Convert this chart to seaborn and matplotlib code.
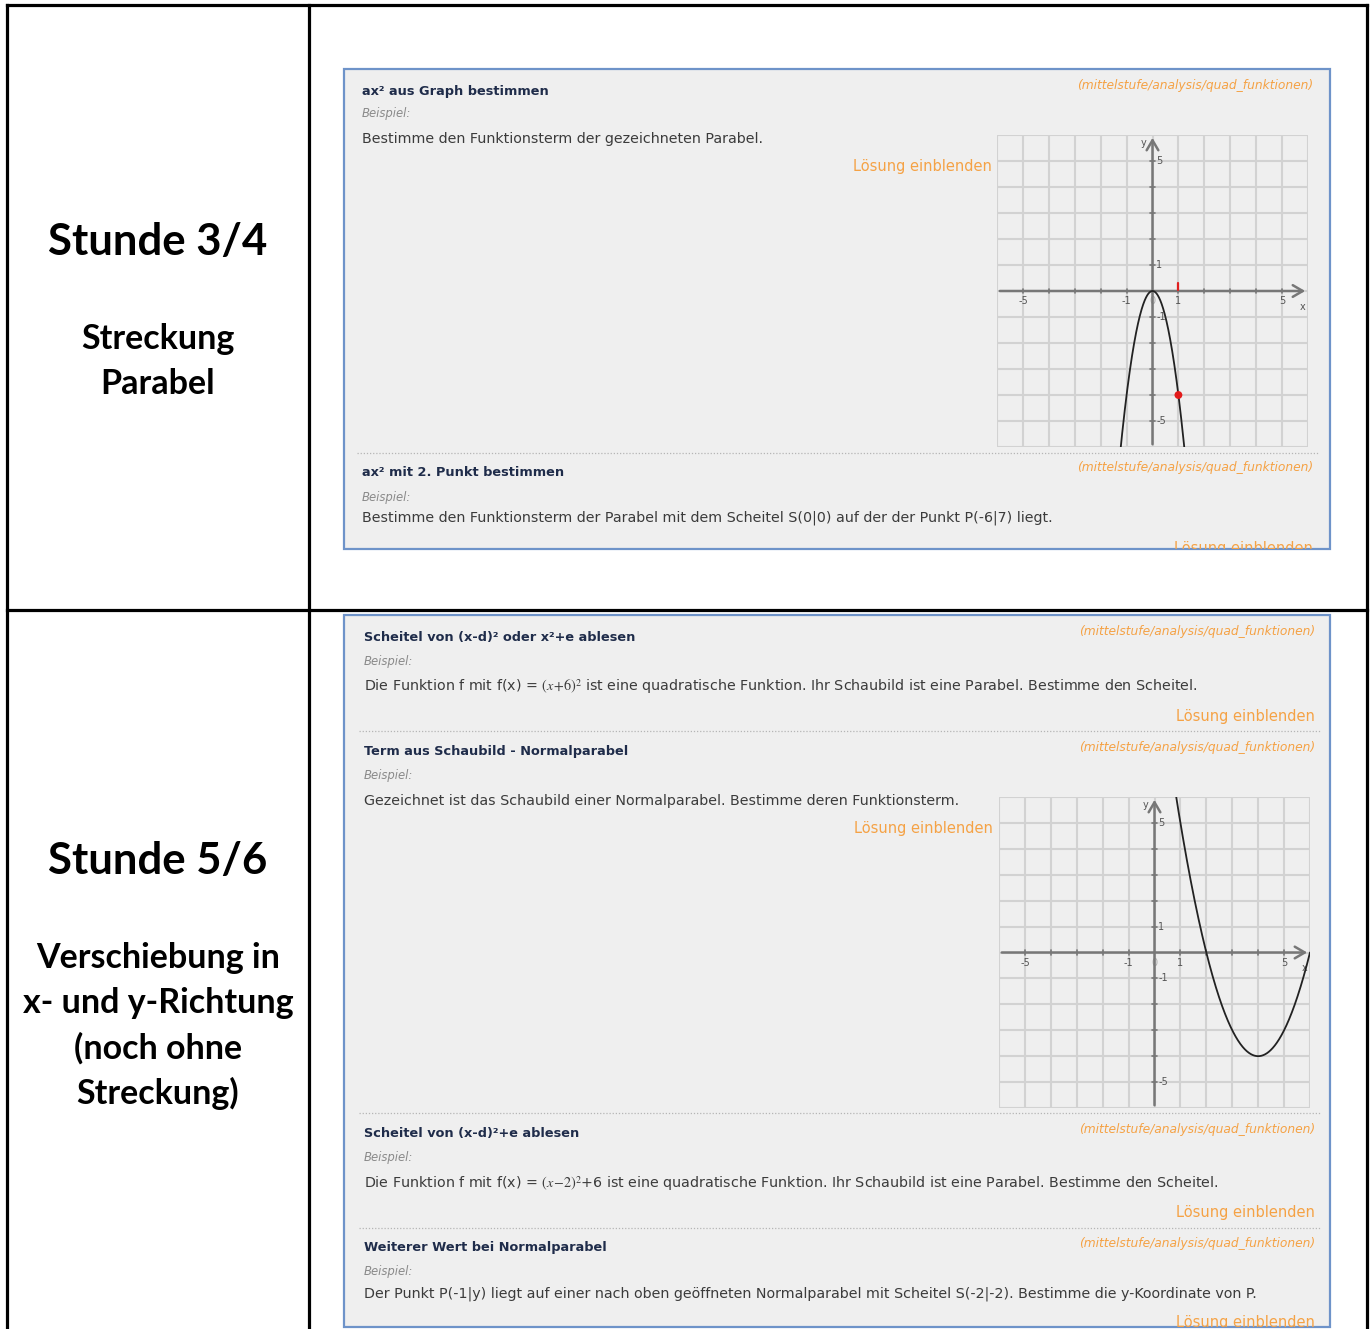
import numpy as np
import pandas as pd
import matplotlib
matplotlib.use("Agg")
import matplotlib.pyplot as plt
import matplotlib.patches as mpatches
from matplotlib.transforms import Bbox, TransformedBbox
import seaborn as sns

# ---------------- data ----------------
section_titles = ["Stunde 3/4", "Stunde 5/6"]
section_lines = [["Streckung", "Parabel"],
                 ["Verschiebung in", "x- und y-Richtung", "(noch ohne", "Streckung)"]]

task_titles = ["ax² aus Graph bestimmen",
               "ax² mit 2. Punkt bestimmen",
               "Scheitel von (x-d)² oder x²+e ablesen",
               "Term aus Schaubild - Normalparabel",
               "Scheitel von (x-d)²+e ablesen",
               "Weiterer Wert bei Normalparabel"]
task_texts = ["Bestimme den Funktionsterm der gezeichneten Parabel.",
              "Bestimme den Funktionsterm der Parabel mit dem Scheitel S(0|0) auf der der Punkt P(-6|7) liegt.",
              r"Die Funktion f mit f(x) = $\left(x\!+\!6\right)^2$ ist eine quadratische Funktion. Ihr Schaubild ist eine Parabel. Bestimme den Scheitel.",
              "Gezeichnet ist das Schaubild einer Normalparabel. Bestimme deren Funktionsterm.",
              r"Die Funktion f mit f(x) = $\left(x\!-\!2\right)^2$+6 ist eine quadratische Funktion. Ihr Schaubild ist eine Parabel. Bestimme den Scheitel.",
              "Der Punkt P(-1|y) liegt auf einer nach oben geöffneten Normalparabel mit Scheitel S(-2|-2). Bestimme die y-Koordinate von P."]
task_path = "(mittelstufe/analysis/quad_funktionen)"
example_label = "Beispiel:"
solution_label = "Lösung einblenden"

# graph parameters y = a (x - d)^2 + e
graph1_a, graph1_d, graph1_e = -4.0, 0.0, 0.0
graph1_point = (1.0, -4.0)
graph2_a, graph2_d, graph2_e = 1.0, 4.0, -4.0
axis_tick_labels = [-5, -1, 1, 5]
grid_range = (-6, 6)

# ---------------- layout ----------------
W, H = 1371, 1329
sns.set_theme(style="white")
plt.rcParams["font.family"] = ["DejaVu Sans"]
plt.rcParams["mathtext.fontset"] = "stix"

fig = plt.figure(figsize=(W / 100, H / 100), dpi=100)
ax = fig.add_axes([0, 0, 1, 1])
ax.set_xlim(0, W)
ax.set_ylim(H, 0)
ax.axis("off")

# table lines
tbl = dict(color="black", lw=2.3, solid_capstyle="projecting")
ax.plot([7, 1367], [5, 5], **tbl)
ax.plot([7, 1367], [610, 610], **tbl)
ax.plot([7, 7], [5, H], **tbl)
ax.plot([309, 309], [5, H], **tbl)
ax.plot([1367, 1367], [5, H], **tbl)

# left column texts
lf = ["Lato", "DejaVu Sans"]
ax.text(158, 242, section_titles[0], ha="center", va="center", fontsize=31.5,
        fontweight="bold", family=lf, color="black")
for i, s in enumerate(section_lines[0]):
    ax.text(158, 339 + 45 * i, s, ha="center", va="center", fontsize=24.5,
            fontweight="bold", family=lf, color="black")
ax.text(158, 861, section_titles[1], ha="center", va="center", fontsize=31.5,
        fontweight="bold", family=lf, color="black")
for i, s in enumerate(section_lines[1]):
    ax.text(158, 958 + 45 * i, s, ha="center", va="center", fontsize=24.5,
            fontweight="bold", family=lf, color="black")

# panels
panel_fc = "#efefef"
panel_ec = "#6e93c9"
p1_box = (344, 69, 1330, 549)
p2_box = (344, 615, 1330, 1327)
for (x0, y0, x1, y1) in (p1_box, p2_box):
    ax.add_patch(mpatches.Rectangle((x0, y0), x1 - x0, y1 - y0, facecolor=panel_fc,
                                    edgecolor=panel_ec, lw=1.6, zorder=1))


def clipper(b):
    x0, y0, x1, y1 = b
    return TransformedBbox(Bbox([[x0, y0], [x1, y1]]), ax.transData)


title_c = "#1f2c4a"
body_c = "#3b3b3b"
orange = "#f5a245"
# (x_left, x_right, y_title, y_path, y_beisp, y_body, x_loes, y_loes, panel)
task_layout = [
    (362, 1313, 91, 86, 114, 139, 992, 166, p1_box),
    (362, 1313, 472, 468, 497, 518, 1313, 548, p1_box),
    (364, 1315, 637, 632, 661, 687, 1315, 716, p2_box),
    (364, 1315, 752, 748, 775, 801, 993, 828, p2_box),
    (364, 1315, 1133, 1129, 1157, 1184, 1315, 1212, p2_box),
    (364, 1315, 1247, 1243, 1271, 1294, 1315, 1322, p2_box),
]
for k, (xl, xr, yt, yp, yb, ybody, xlo, ylo, pb) in enumerate(task_layout):
    ax.text(xl, yt, task_titles[k], ha="left", va="center", fontsize=9.3,
            fontweight="bold", color=title_c, zorder=3)
    ax.text(xr, yp, task_path, ha="right", va="center", fontsize=8.8,
            style="italic", color=orange, zorder=3)
    ax.text(xl, yb, example_label, ha="left", va="center", fontsize=8.4,
            style="italic", color="#8a8a8a", zorder=3)
    ax.text(xl, ybody, task_texts[k], ha="left", va="center", fontsize=10.3,
            color=body_c, zorder=3)
    t = ax.text(xlo, ylo, solution_label, ha="right", va="center", fontsize=10.5,
                color=orange, zorder=3)
    t.set_clip_box(clipper(pb))
    t.set_clip_on(True)

# dotted separators
sep = dict(color="#b5b5b5", lw=0.9, ls=(0, (1, 1.5)), zorder=2)
ax.plot([357, 1318], [453, 453], **sep)
ax.plot([359, 1320], [731, 731], **sep)
ax.plot([359, 1320], [1113, 1113], **sep)
ax.plot([359, 1320], [1228, 1228], **sep)


def graph(box, a, d, e, point=None, red_tick=None):
    x0, y0, x1, y1 = box
    g = fig.add_axes([x0 / W, 1 - y1 / H, (x1 - x0) / W, (y1 - y0) / H])
    lo, hi = grid_range
    g.set_xlim(lo, hi)
    g.set_ylim(lo, hi)
    g.set_facecolor(panel_fc)
    for s in g.spines.values():
        s.set_visible(False)
    for v in range(lo, hi + 1):
        g.axvline(v, color="#d2d2d2", lw=1.5, zorder=0)
        g.axhline(v, color="#d2d2d2", lw=1.5, zorder=0)
    g.set_xticks([])
    g.set_yticks([])
    ac = "#777777"
    g.annotate("", xy=(hi, 0), xytext=(lo, 0),
               arrowprops=dict(arrowstyle="->,head_length=0.6,head_width=0.35", color=ac, lw=1.8),
               annotation_clip=False, zorder=2)
    g.annotate("", xy=(0, hi), xytext=(0, lo),
               arrowprops=dict(arrowstyle="->,head_length=0.6,head_width=0.35", color=ac, lw=1.8),
               annotation_clip=False, zorder=2)
    for v in range(lo + 1, hi):
        if v == 0:
            continue
        g.plot([v, v], [-0.08, 0.08], color=ac, lw=1.2, zorder=2)
        g.plot([-0.08, 0.08], [v, v], color=ac, lw=1.2, zorder=2)
    lab = dict(fontsize=7, color="#555555", zorder=3)
    for v in axis_tick_labels:
        g.text(v, -0.2, str(v), ha="center", va="top", **lab)
        g.text(0.15, v, str(v), ha="left", va="center", **lab)
    g.text(0, -0.2, "0", ha="center", va="top", fontsize=7, color="#aaaaaa", zorder=1)
    g.text(-0.35, hi - 0.3, "y", ha="center", va="center", **lab)
    g.text(hi - 0.22, -0.6, "x", ha="center", va="center", **lab)
    xs = np.linspace(lo, hi, 1201)
    ys = a * (xs - d) ** 2 + e
    m = (ys >= lo - 0.5) & (ys <= hi + 0.5)
    df = pd.DataFrame({"x": xs[m], "y": ys[m]})
    sns.lineplot(data=df, x="x", y="y", ax=g, color="#222222", lw=1.3,
                 sort=False, zorder=4, legend=False)
    if red_tick is not None:
        g.plot([red_tick, red_tick], [0.05, 0.32], color="#e02020", lw=1.6, zorder=5)
    if point is not None:
        sns.scatterplot(x=[point[0]], y=[point[1]], ax=g, color="#e31b1b",
                        s=32, edgecolor="none", zorder=6, legend=False)
    g.set_xlim(lo, hi)
    g.set_ylim(lo, hi)
    g.set_xlabel("")
    g.set_ylabel("")
    return g


graph((997, 135, 1308, 447), graph1_a, graph1_d, graph1_e, point=graph1_point, red_tick=1.0)
graph((999, 797, 1310, 1108), graph2_a, graph2_d, graph2_e)

fig.savefig("out.png", dpi=100)
